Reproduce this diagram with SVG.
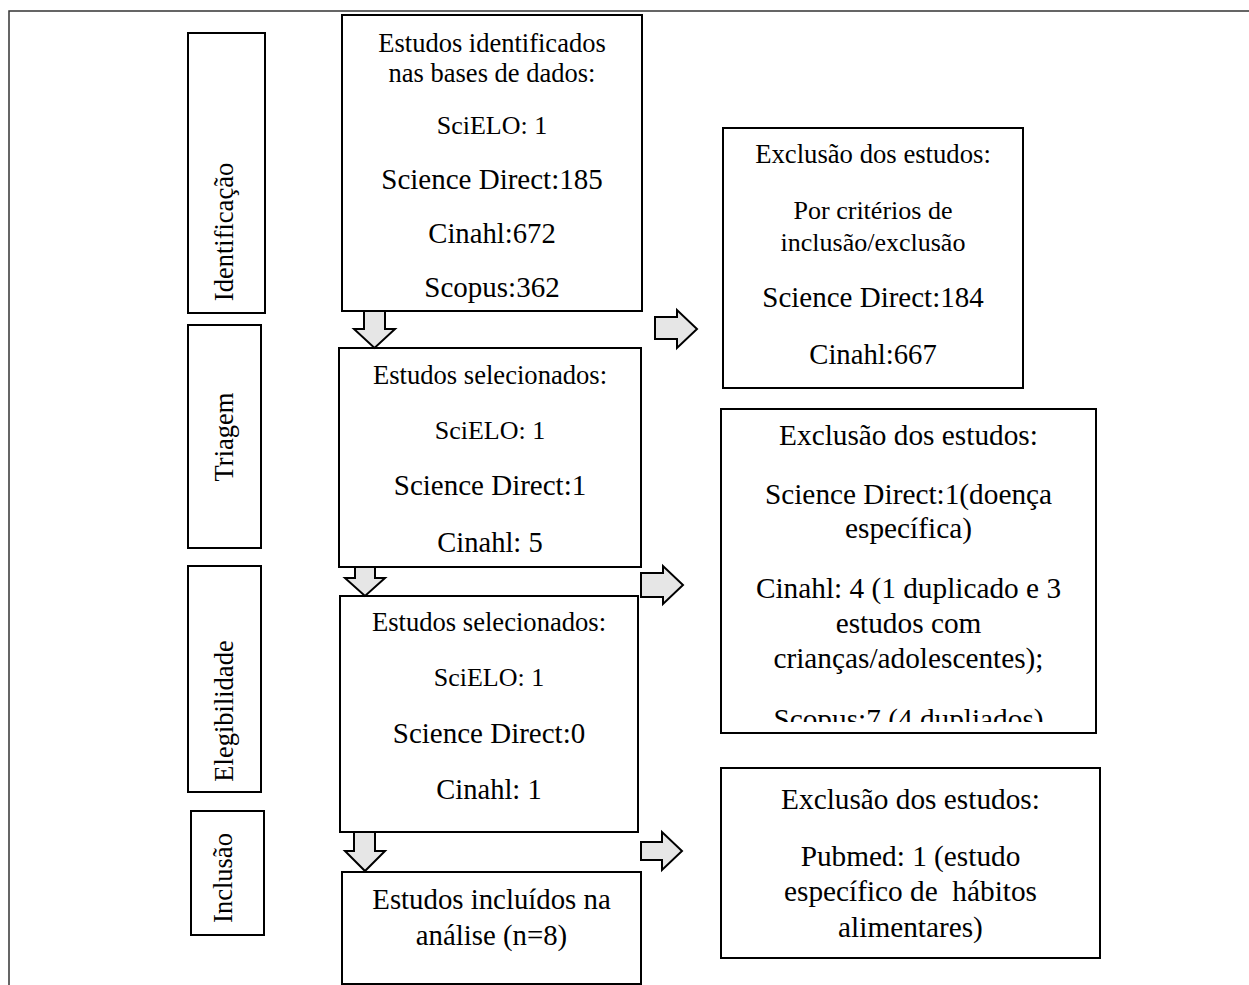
<svg xmlns="http://www.w3.org/2000/svg" width="1249" height="985" viewBox="0 0 1249 985">
<style>
.frame{fill:none;stroke:#333;stroke-width:1.5}
.box{fill:#fff;stroke:#000;stroke-width:2}
.arr{fill:#e6e6e6;stroke:#000;stroke-width:2;stroke-linejoin:miter}
text{font-family:"Liberation Serif","Times New Roman",serif;fill:#000}
.c{text-anchor:middle}
.lab{text-anchor:middle;font-size:26.5px}
</style>
<defs>
<clipPath id="clipE2"><rect x="721" y="409" width="375" height="313"/></clipPath>
</defs>
<rect width="1249" height="985" fill="#fff"/>
<path class="frame" d="M9 985 V11 H1249"/>

<g id="stage-identificacao">
<rect class="box" x="188" y="33" width="77" height="280"/>
<text class="lab" transform="translate(233,232) rotate(-90)">Identificação</text>
</g>
<g id="stage-triagem">
<rect class="box" x="188" y="325" width="73" height="223"/>
<text class="lab" transform="translate(233,437) rotate(-90)">Triagem</text>
</g>
<g id="stage-elegibilidade">
<rect class="box" x="188" y="566" width="73" height="226"/>
<text class="lab" transform="translate(233,711) rotate(-90)">Elegibilidade</text>
</g>
<g id="stage-inclusao">
<rect class="box" x="191" y="811" width="73" height="124"/>
<text class="lab" transform="translate(232,878) rotate(-90)">Inclusão</text>
</g>

<g id="identificados">
<rect class="box" x="342" y="15" width="300" height="296"/>
<text class="c" x="492" y="52" font-size="26.5">Estudos identificados</text>
<text class="c" x="492" y="82" font-size="26.5">nas bases de dados:</text>
<text class="c" x="492" y="134" font-size="26">SciELO: 1</text>
<text class="c" x="492" y="189" font-size="29">Science Direct:185</text>
<text class="c" x="492" y="243" font-size="28.7">Cinahl:672</text>
<text class="c" x="492" y="297" font-size="29">Scopus:362</text>
</g>

<g id="selecionados-triagem">
<rect class="box" x="339" y="348" width="302" height="219"/>
<text class="c" x="490" y="384" font-size="26.6">Estudos selecionados:</text>
<text class="c" x="490" y="439" font-size="26">SciELO: 1</text>
<text class="c" x="490" y="495" font-size="29">Science Direct:1</text>
<text class="c" x="490" y="552" font-size="28.5">Cinahl: 5</text>
</g>

<g id="selecionados-elegibilidade">
<rect class="box" x="340" y="596" width="298" height="236"/>
<text class="c" x="489" y="631" font-size="26.6">Estudos selecionados:</text>
<text class="c" x="489" y="686" font-size="26">SciELO: 1</text>
<text class="c" x="489" y="743" font-size="29">Science Direct:0</text>
<text class="c" x="489" y="799" font-size="28.5">Cinahl: 1</text>
</g>

<g id="incluidos">
<rect class="box" x="342" y="872" width="299" height="112"/>
<text class="c" x="491.5" y="909" font-size="28.8">Estudos incluídos na</text>
<text class="c" x="491.5" y="945" font-size="28.8">análise (n=8)</text>
</g>

<g id="exclusao-1">
<rect class="box" x="723" y="128" width="300" height="260"/>
<text class="c" x="873" y="163" font-size="26.7">Exclusão dos estudos:</text>
<text class="c" x="873" y="219" font-size="26">Por critérios de</text>
<text class="c" x="873" y="251" font-size="26">inclusão/exclusão</text>
<text class="c" x="873" y="307" font-size="29">Science Direct:184</text>
<text class="c" x="873" y="364" font-size="28.7">Cinahl:667</text>
</g>

<g id="exclusao-2">
<rect class="box" x="721" y="409" width="375" height="324"/>
<g clip-path="url(#clipE2)" font-size="29.3">
<text class="c" x="908.5" y="445">Exclusão dos estudos:</text>
<text class="c" x="908.5" y="504">Science Direct:1(doença</text>
<text class="c" x="908.5" y="538">específica)</text>
<text class="c" x="908.5" y="598">Cinahl: 4 (1 duplicado e 3</text>
<text class="c" x="908.5" y="633">estudos com</text>
<text class="c" x="908.5" y="668">crianças/adolescentes);</text>
<text class="c" x="908.5" y="729">Scopus:7 (4 dupliados)</text>
</g>
</g>

<g id="exclusao-3">
<rect class="box" x="721" y="768" width="379" height="190"/>
<text class="c" x="910.5" y="809" font-size="29.3">Exclusão dos estudos:</text>
<text class="c" x="910.5" y="866" font-size="29.3">Pubmed: 1 (estudo</text>
<text class="c" x="910.5" y="901" font-size="29.3" xml:space="preserve">específico de  hábitos</text>
<text class="c" x="910.5" y="937" font-size="29.3">alimentares)</text>
</g>

<g id="connectors">
<path class="arr" d="M364 311 H385 V329 H395 L374.5 348 L354 329 H364 Z"/>
<path class="arr" d="M355 567 H375 V578 H385 L365 596 L345 578 H355 Z"/>
<path class="arr" d="M354 832 H375 V851 H385 L365 871 L345 851 H354 Z"/>
<path class="arr" d="M655 317 H677 V310 L697 329 L677 348 V339 H655 Z"/>
<path class="arr" d="M641 573 H663 V566 L683 585 L663 604 V597 H641 Z"/>
<path class="arr" d="M641 842 H662 V832 L682 851 L662 870 V860 H641 Z"/>
</g>
</svg>
